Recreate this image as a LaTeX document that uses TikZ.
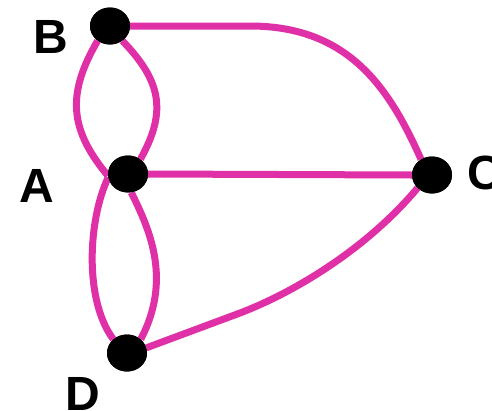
\documentclass[tikz,border=0pt]{standalone}
\usepackage{fontspec}
\setmainfont{Liberation Sans}
\usetikzlibrary{shapes.geometric}
\definecolor{bridge}{RGB}{224,48,168}
\tikzset{
  vert/.style={ellipse,fill=black,minimum width=40pt,minimum height=37pt,inner sep=0pt},
  lbl/.style={font=\fontsize{48}{48}\selectfont\bfseries,anchor=base,inner sep=0pt},
  edge/.style={draw=bridge,line width=7pt}
}
\begin{document}
\begin{tikzpicture}[x=1pt,y=-1pt]
\useasboundingbox (0,0) rectangle (492,410);
\coordinate (B) at (110,26);
\coordinate (A) at (128,174);
\coordinate (C) at (432,175);
\coordinate (D) at (127,353);
\node[vert] (nB) at (B) {};
\node[vert] (nA) at (A) {};
\node[vert] (nC) at (C) {};
\node[vert] (nD) at (D) {};
\coordinate (bc) at (250,26);
\coordinate (dc) at (240,313);
\path[edge] (nB.230) .. controls (66,95) and (70,130) .. (nA.185);
\path[edge] (nB.-50) .. controls (160,80) and (168,110) .. (nA.50);
\path[edge] (nA.190) .. controls (88,220) and (84,300) .. (nD.135);
\path[edge] (nA.-80) .. controls (150,230) and (172,280) .. (nD.45);
\path[edge] (nA.east) -- (nC.west);
\path[edge] (nB.0) -- (bc) .. controls (350,26) and (390,90) .. (nC.125);
\path[edge] (nD.15) -- (dc) .. controls (300,290) and (370,245) .. (nC.222);
\node[vert] at (B) {};
\node[vert] at (A) {};
\node[vert] at (C) {};
\node[vert] at (D) {};
\node[lbl] (lB) at (51,53) {B};
\node[lbl] (lA) at (37,202) {A};
\node[lbl] (lC) at (485,189) {C};
\node[lbl] (lD) at (83,410) {D};
\end{tikzpicture}
\end{document}
